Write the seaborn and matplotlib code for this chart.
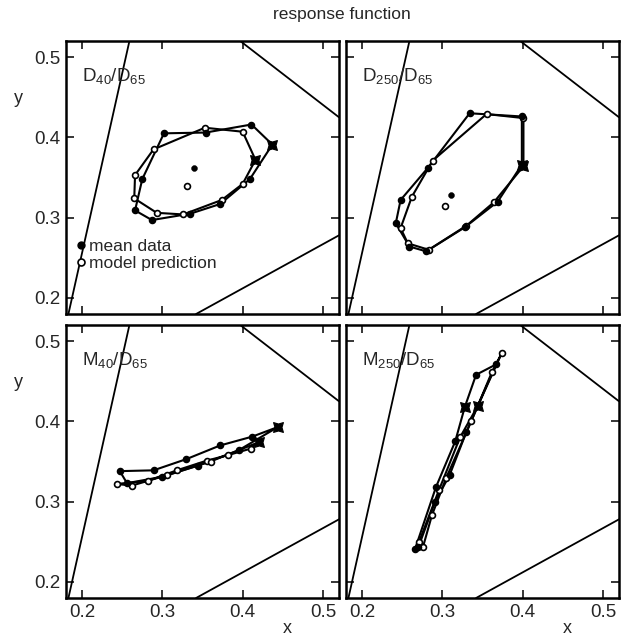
import numpy as np
import pandas as pd
import seaborn as sns
import matplotlib.pyplot as plt
from matplotlib.lines import Line2D

# panel names
panel_labels = [r"D$_{40}$/D$_{65}$", r"D$_{250}$/D$_{65}$",
                r"M$_{40}$/D$_{65}$", r"M$_{250}$/D$_{65}$"]
tick_values = [0.2, 0.3, 0.4, 0.5]
tick_labels = ["0.2", "0.3", "0.4", "0.5"]

# gamut boundary segments (same in every panel)
left_edge_x = [0.183, 0.259]
left_edge_y = [0.18, 0.52]
upper_edge_x = [0.397, 0.52]
upper_edge_y = [0.52, 0.425]
lower_edge_x = [0.342, 0.52]
lower_edge_y = [0.18, 0.278]

# D40/D65  (first point of each loop is the star)
d40_mean_x = [0.437, 0.409, 0.372, 0.335, 0.287, 0.266, 0.275, 0.302, 0.354, 0.411]
d40_mean_y = [0.391, 0.348, 0.317, 0.305, 0.297, 0.309, 0.348, 0.405, 0.406, 0.416]
d40_model_x = [0.416, 0.400, 0.374, 0.326, 0.293, 0.265, 0.266, 0.289, 0.353, 0.400]
d40_model_y = [0.372, 0.342, 0.322, 0.304, 0.306, 0.324, 0.353, 0.385, 0.412, 0.407]
d40_centre = [(0.340, 0.362), (0.331, 0.340)]

# D250/D65
d250_mean_x = [0.399, 0.369, 0.328, 0.280, 0.259, 0.242, 0.248, 0.282, 0.334, 0.399]
d250_mean_y = [0.366, 0.320, 0.288, 0.258, 0.264, 0.293, 0.322, 0.362, 0.430, 0.426]
d250_model_x = [0.401, 0.364, 0.330, 0.283, 0.257, 0.248, 0.262, 0.288, 0.355, 0.401]
d250_model_y = [0.364, 0.319, 0.290, 0.260, 0.268, 0.287, 0.326, 0.371, 0.429, 0.424]
d250_centre = [(0.311, 0.328), (0.303, 0.315)]

# M40/D65
m40_mean_x = [0.444, 0.412, 0.372, 0.330, 0.289, 0.247, 0.256, 0.300, 0.345, 0.395]
m40_mean_y = [0.393, 0.381, 0.370, 0.353, 0.339, 0.338, 0.323, 0.331, 0.345, 0.364]
m40_model_x = [0.420, 0.410, 0.382, 0.355, 0.318, 0.282, 0.243, 0.262, 0.306, 0.360]
m40_model_y = [0.374, 0.366, 0.358, 0.351, 0.339, 0.326, 0.322, 0.320, 0.333, 0.350]

# M250/D65
m250_mean_x = [0.328, 0.342, 0.367, 0.330, 0.309, 0.291, 0.270, 0.266, 0.292, 0.316]
m250_mean_y = [0.418, 0.458, 0.471, 0.387, 0.333, 0.300, 0.243, 0.241, 0.318, 0.375]
m250_model_x = [0.344, 0.374, 0.362, 0.336, 0.305, 0.287, 0.276, 0.271, 0.296, 0.322]
m250_model_y = [0.419, 0.485, 0.462, 0.400, 0.330, 0.283, 0.244, 0.250, 0.315, 0.380]

panels = [
    (d40_mean_x, d40_mean_y, d40_model_x, d40_model_y, d40_centre),
    (d250_mean_x, d250_mean_y, d250_model_x, d250_model_y, d250_centre),
    (m40_mean_x, m40_mean_y, m40_model_x, m40_model_y, []),
    (m250_mean_x, m250_mean_y, m250_model_x, m250_model_y, []),
]

sns.set_style("ticks")
plt.rcParams["font.family"] = ["Liberation Sans", "DejaVu Sans"]
plt.rcParams["mathtext.default"] = "regular"

fig = plt.figure(figsize=(6.22, 6.39), dpi=100)
W, H = 622, 639
pos = [(66, 41), (346, 41), (66, 325), (346, 325)]
size = 273

star = (4, 1, 45)
dot = 18


def loop(ax, xs, ys, filled):
    df = pd.DataFrame({"x": xs + xs[:1], "y": ys + ys[:1]})
    sns.lineplot(data=df, x="x", y="y", sort=False, estimator=None,
                 color="black", lw=1.5, ax=ax)
    pts = pd.DataFrame({"x": xs[1:], "y": ys[1:]})
    sns.scatterplot(data=pts, x="x", y="y", ax=ax, s=dot, zorder=3,
                    color="black" if filled else "white",
                    edgecolor="black", linewidth=1.2)
    sns.scatterplot(x=xs[:1], y=ys[:1], ax=ax, marker=star, s=100,
                    color="black", edgecolor="black", linewidth=0.8, zorder=4)


for i, (mx, my, px, py, centre) in enumerate(panels):
    l, t = pos[i]
    ax = fig.add_axes([l / W, 1 - (t + size) / H, size / W, size / H])
    for ex, ey in [(left_edge_x, left_edge_y), (upper_edge_x, upper_edge_y),
                   (lower_edge_x, lower_edge_y)]:
        sns.lineplot(x=ex, y=ey, ax=ax, color="black", lw=1.3, sort=False,
                     estimator=None)
    loop(ax, px, py, filled=False)
    loop(ax, mx, my, filled=True)
    if centre:
        sns.scatterplot(x=[centre[0][0]], y=[centre[0][1]], ax=ax, s=dot,
                        color="black", edgecolor="black", zorder=3)
        sns.scatterplot(x=[centre[1][0]], y=[centre[1][1]], ax=ax, s=dot,
                        color="white", edgecolor="black", linewidth=1.2, zorder=3)

    ax.set_xlim(0.18, 0.52)
    ax.set_ylim(0.18, 0.52)
    ax.set_xticks(tick_values)
    ax.set_yticks(tick_values)
    ax.tick_params(direction="in", top=True, right=True, length=6, width=1.3,
                   labelsize=13.5, pad=4)
    for sp in ax.spines.values():
        sp.set_linewidth(1.8)
        sp.set_color("black")
    if i % 2 == 0:
        ax.set_yticklabels(tick_labels)
        ax.set_ylabel("y", rotation=0, fontsize=13)
        ax.yaxis.set_label_coords(-0.175, 0.76)
    else:
        ax.set_yticklabels([])
        ax.set_ylabel("")
    if i >= 2:
        ax.set_xticklabels(tick_labels)
        ax.set_xlabel("x", fontsize=13)
        ax.xaxis.set_label_coords(0.81, -0.08)
    else:
        ax.set_xticklabels([])
        ax.set_xlabel("")
    ax.text(0.06, 0.91, panel_labels[i], transform=ax.transAxes, fontsize=13.5,
            va="top", ha="left")
    if i == 0:
        handles = [
            Line2D([], [], marker="o", ls="", color="black", markersize=5),
            Line2D([], [], marker="o", ls="", markerfacecolor="white",
                   markeredgecolor="black", markeredgewidth=1.2, markersize=5),
        ]
        ax.legend(handles, ["mean data", "model prediction"], loc="lower left",
                  bbox_to_anchor=(0.0, 0.12), frameon=False, fontsize=12.5,
                  handlelength=0.5, handletextpad=0.2, labelspacing=0.1,
                  borderaxespad=0.2)

fig.text(342 / W, 1 - 14 / H, "response function", ha="center", va="center",
         fontsize=12.5)

plt.savefig("out.png", dpi=100)
